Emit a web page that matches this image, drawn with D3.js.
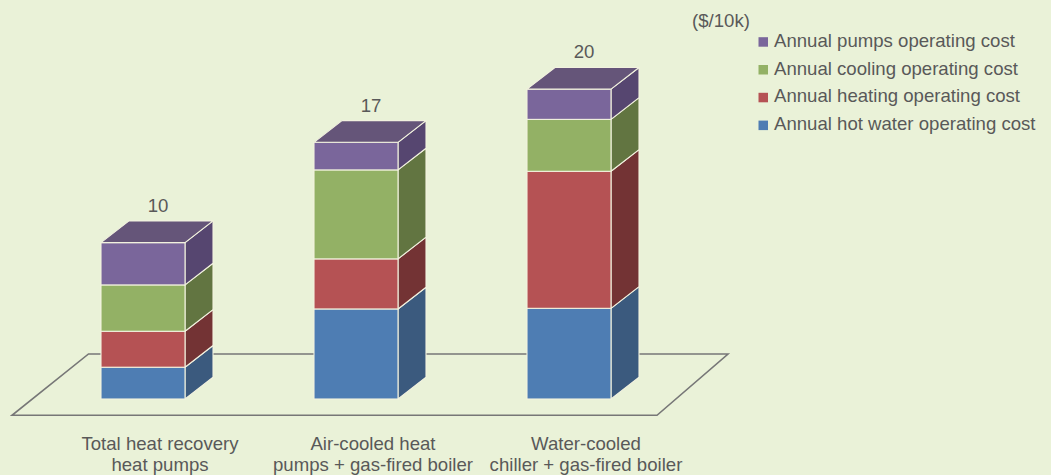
<!DOCTYPE html>
<html>
<head>
<meta charset="utf-8">
<script src="https://cdn.jsdelivr.net/npm/d3@7/dist/d3.min.js"></script>
<style>
  html, body { margin: 0; padding: 0; background: #eaf2d8; }
  svg { display: block; font-family: "Liberation Sans", Arial, sans-serif; }
</style>
</head>
<body>
<svg id="chart" width="1051" height="475"></svg>
<script>
// ---- data ----
const categories = [
  ["Total heat recovery", "heat pumps"],
  ["Air-cooled heat", "pumps + gas-fired boiler"],
  ["Water-cooled", "chiller + gas-fired boiler"]
];
const seriesNames = [
  "Annual hot water operating cost",
  "Annual heating operating cost",
  "Annual cooling operating cost",
  "Annual pumps operating cost"
];
const hotWater = [2.05, 5.81, 5.85];
const heating  = [2.32, 3.23, 8.84];
const cooling  = [2.99, 5.74, 3.35];
const pumps    = [2.73, 1.78, 1.95];
const unitLabel = "($/10k)";
const yMax = 20;

// ---- styling ----
const frontColors = ["#4e7db3", "#b55254", "#93b165", "#7a669b"];
const sideColors  = ["#3b5a7e", "#733334", "#627541", "#564670"];
const topColor    = "#655579";
const edgeColor   = "#f2f2df";
const textColor   = "#595959";
const fs = 18.6;

const svg = d3.select("#chart");
const W = 1051, H = 475;
svg.append("rect").attr("width", W).attr("height", H).attr("fill", "#eaf2d8");

const keys = ["hotWater", "heating", "cooling", "pumps"];
const rows = categories.map((c, i) => ({
  idx: i,
  hotWater: hotWater[i], heating: heating[i], cooling: cooling[i], pumps: pumps[i]
}));
const stacked = d3.stack().keys(keys)(rows);

const x = d3.scaleBand().domain(d3.range(categories.length))
  .range([101, 611]).paddingInner(0.6056).paddingOuter(0);
const y = d3.scaleLinear().domain([0, yMax]).range([399, 89]);

const dx = 28, dy = -21.7;            // bar depth
const fdy = -61.3;                    // floor depth
const floorFront = y(0) + 16.3;

// floor parallelogram
const fl = x.range()[0] - 89, fr = x.range()[1] + 46;
svg.append("path")
  .attr("d", `M${fl},${floorFront} L${fr},${floorFront} L${fr + 71},${floorFront + fdy} L${fl + 76.5},${floorFront + fdy} Z`)
  .attr("fill", "none").attr("stroke", "#777").attr("stroke-width", 1.6);

// bars
const bw = x.bandwidth();
const g = svg.append("g");
stacked.forEach((layer, si) => {
  layer.forEach((d, ci) => {
    const x0 = x(ci), x1 = x0 + bw;
    const yt = y(d[1]), yb = y(d[0]);
    g.append("path")
      .attr("d", `M${x1},${yb} L${x1 + dx},${yb + dy} L${x1 + dx},${yt + dy} L${x1},${yt} Z`)
      .attr("fill", sideColors[si]).attr("stroke", edgeColor).attr("stroke-width", 1.1)
      .attr("stroke-linejoin", "round");
    g.append("rect")
      .attr("x", x0).attr("y", yt).attr("width", bw).attr("height", yb - yt)
      .attr("fill", frontColors[si]).attr("stroke", edgeColor).attr("stroke-width", 1.1);
    if (si === keys.length - 1) {
      g.append("path")
        .attr("d", `M${x0},${yt} L${x0 + dx},${yt + dy} L${x1 + dx},${yt + dy} L${x1},${yt} Z`)
        .attr("fill", topColor).attr("stroke", edgeColor).attr("stroke-width", 1.1)
        .attr("stroke-linejoin", "round");
    }
  });
});

// total labels
rows.forEach((r, i) => {
  const total = keys.reduce((s, k) => s + r[k], 0);
  svg.append("text")
    .attr("x", x(i) + bw / 2 + 15)
    .attr("y", y(total) + dy - 9)
    .attr("text-anchor", "middle")
    .attr("font-size", fs).attr("fill", textColor)
    .text(d3.format(".0f")(total));
});

// category labels
categories.forEach((lines, i) => {
  const t = svg.append("text")
    .attr("text-anchor", "middle").attr("font-size", fs).attr("fill", textColor);
  lines.forEach((ln, j) => {
    t.append("tspan").attr("x", x(i) + bw / 2 + 17).attr("y", 450 + j * 20.5).text(ln);
  });
});

// unit label
svg.append("text").attr("x", 692).attr("y", 27)
  .attr("font-size", fs).attr("fill", textColor).text(unitLabel);

// legend (top-down reversed)
const legendOrder = d3.range(seriesNames.length).reverse();
legendOrder.forEach((si, j) => {
  const by = 46.7 + j * 27.8;
  svg.append("rect").attr("x", 758.5).attr("y", by - 9.5).attr("width", 9.5).attr("height", 9.5)
    .attr("fill", frontColors[si]);
  svg.append("text").attr("x", 774).attr("y", by)
    .attr("font-size", fs).attr("fill", textColor).text(seriesNames[si]);
});
</script>
</body>
</html>
